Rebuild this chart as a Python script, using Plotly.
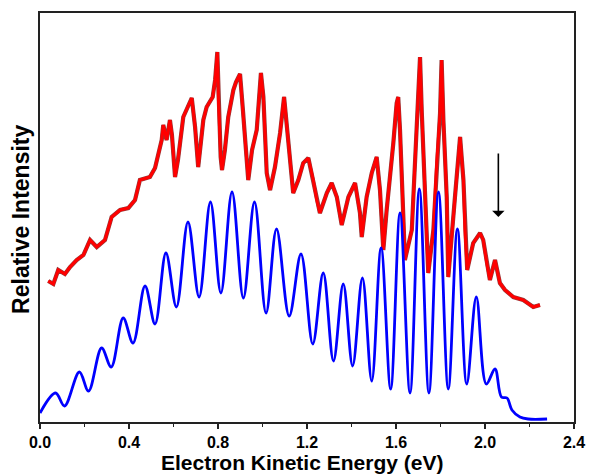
import plotly.graph_objects as go

# Experimental photoelectron spectrum (red), relative intensity in arbitrary units
exp_energy = [0.037, 0.060, 0.082, 0.112, 0.135, 0.165, 0.195, 0.225, 0.255, 0.292,
              0.322, 0.360, 0.397, 0.427, 0.449, 0.494, 0.517, 0.547, 0.554, 0.569,
              0.584, 0.593, 0.607, 0.620, 0.644, 0.682, 0.697, 0.711, 0.734, 0.749,
              0.776, 0.787, 0.797, 0.802, 0.812, 0.818, 0.831, 0.846, 0.869, 0.881,
              0.899, 0.912, 0.929, 0.936, 0.953, 0.974, 0.993, 1.004, 1.019, 1.034,
              1.056, 1.079, 1.097, 1.116, 1.131, 1.138, 1.161, 1.183, 1.206, 1.228,
              1.244, 1.258, 1.289, 1.311, 1.334, 1.356, 1.386, 1.416, 1.438, 1.446,
              1.468, 1.491, 1.513, 1.528, 1.543, 1.558, 1.588, 1.603, 1.610, 1.618,
              1.633, 1.640, 1.671, 1.685, 1.700, 1.708, 1.716, 1.730, 1.745, 1.768,
              1.783, 1.798, 1.805, 1.813, 1.828, 1.835, 1.865, 1.888, 1.903, 1.910,
              1.920, 1.947, 1.978, 1.992, 2.008, 2.022, 2.045, 2.067, 2.090, 2.127,
              2.172, 2.217, 2.247]
exp_intensity = [141, 138, 152, 148, 155, 162, 167, 182, 175, 182,
                 205, 212, 214, 222, 242, 245, 254, 282, 297, 282,
                 302, 287, 245, 262, 305, 324, 295, 255, 302, 315,
                 325, 342, 370, 322, 265, 252, 272, 305, 332, 340,
                 348, 312, 257, 242, 272, 292, 349, 325, 249, 232,
                 255, 289, 325, 282, 242, 229, 242, 259, 264, 242,
                 222, 209, 229, 239, 225, 197, 225, 239, 209, 185,
                 225, 249, 265, 232, 172, 212, 279, 319, 325, 292,
                 205, 162, 192, 259, 319, 365, 309, 225, 149, 192,
                 259, 309, 362, 302, 225, 145, 225, 285, 242, 192,
                 152, 179, 189, 182, 159, 142, 162, 139, 132, 125,
                 122, 115, 117]

# Simulated spectrum (blue): peak and valley positions
sim_energy = [0.000, 0.070, 0.110, 0.177, 0.218, 0.277, 0.320, 0.374, 0.418, 0.472,
              0.517, 0.566, 0.613, 0.665, 0.715, 0.766, 0.813, 0.863, 0.914, 0.964,
              1.016, 1.063, 1.120, 1.173, 1.226, 1.273, 1.319, 1.363, 1.405, 1.449,
              1.491, 1.533, 1.576, 1.618, 1.663, 1.705, 1.748, 1.791, 1.835, 1.876,
              1.918, 1.961, 2.006, 2.045, 2.074, 2.099, 2.121, 2.157, 2.194, 2.279]
sim_intensity = [9, 29, 16, 50, 31, 74, 55, 104, 79, 136,
                 98, 169, 115, 200, 125, 220, 129, 230, 124, 220,
                 109, 193, 106, 168, 78, 149, 61, 138, 56, 144,
                 41, 174, 33, 209, 29, 233, 29, 230, 33, 193,
                 38, 125, 38, 53, 25, 24, 12, 5, 3, 3]

x_ticks = [0.0, 0.4, 0.8, 1.2, 1.6, 2.0, 2.4]
x_tick_labels = ["0.0", "0.4", "0.8", "1.2", "1.6", "2.0", "2.4"]
x_minor_ticks = [0.2, 0.6, 1.0, 1.4, 1.8, 2.2]

# Arrow marking the feature near 2.06 eV
arrow_x = 2.06
arrow_tail = 270
arrow_tip = 205

FONT = "Arial, 'Liberation Sans', sans-serif"

fig = go.Figure()
fig.add_trace(go.Scatter(x=exp_energy, y=exp_intensity, mode="lines",
                         line=dict(color="rgb(150,55,55)", width=4.2),
                         hoverinfo="skip", showlegend=False))
fig.add_trace(go.Scatter(x=exp_energy, y=exp_intensity, mode="lines",
                         line=dict(color="rgb(255,0,0)", width=3.0),
                         name="Experiment", showlegend=False))
fig.add_trace(go.Scatter(x=sim_energy, y=sim_intensity, mode="lines",
                         line=dict(color="rgb(0,0,255)", width=2.8, shape="spline", smoothing=1.0),
                         name="Simulation", showlegend=False))

fig.add_annotation(x=arrow_x, y=arrow_tip, ax=arrow_x, ay=arrow_tail,
                   xref="x", yref="y", axref="x", ayref="y",
                   text="", showarrow=True, arrowhead=1, arrowsize=1.3,
                   arrowwidth=1.6, arrowcolor="black")

fig.add_annotation(text="<b>Electron Kinetic Energy (eV)</b>", xref="paper", yref="paper",
                   x=0.49, y=-0.098, xanchor="center", yanchor="middle", showarrow=False,
                   font=dict(family=FONT, size=21, color="black"))
fig.add_annotation(text="<b>Relative Intensity</b>", xref="paper", yref="paper",
                   x=-0.036, y=0.496, xanchor="center", yanchor="middle", showarrow=False,
                   textangle=-90, font=dict(family=FONT, size=23, color="black"))

fig.update_layout(
    width=589, height=476, autosize=False,
    margin=dict(l=40, r=14.5, t=13, b=54, autoexpand=False),
    paper_bgcolor="white", plot_bgcolor="white",
    font=dict(family=FONT, color="black"),
    showlegend=False,
)
fig.update_xaxes(range=[0, 2.4], tickvals=x_ticks, ticktext=["<b>%s</b>" % t for t in x_tick_labels],
                 tickfont=dict(family=FONT, size=16, color="black"),
                 ticks="outside", ticklen=5, tickwidth=1.5, tickcolor="#222",
                 minor=dict(tickvals=x_minor_ticks, ticks="outside", ticklen=3, tickwidth=1.2, tickcolor="#222"),
                 showline=True, linecolor="#222", linewidth=1.5, mirror=True,
                 showgrid=False, zeroline=False, automargin=False)
fig.update_yaxes(range=[0, 409], showticklabels=False, ticks="",
                 showline=True, linecolor="#222", linewidth=1.5, mirror=True,
                 showgrid=False, zeroline=False, automargin=False)

fig.write_html("out.html",
               config={"responsive": False, "displayModeBar": False},
               post_script="document.body.style.margin='0';document.body.style.overflow='hidden';")
